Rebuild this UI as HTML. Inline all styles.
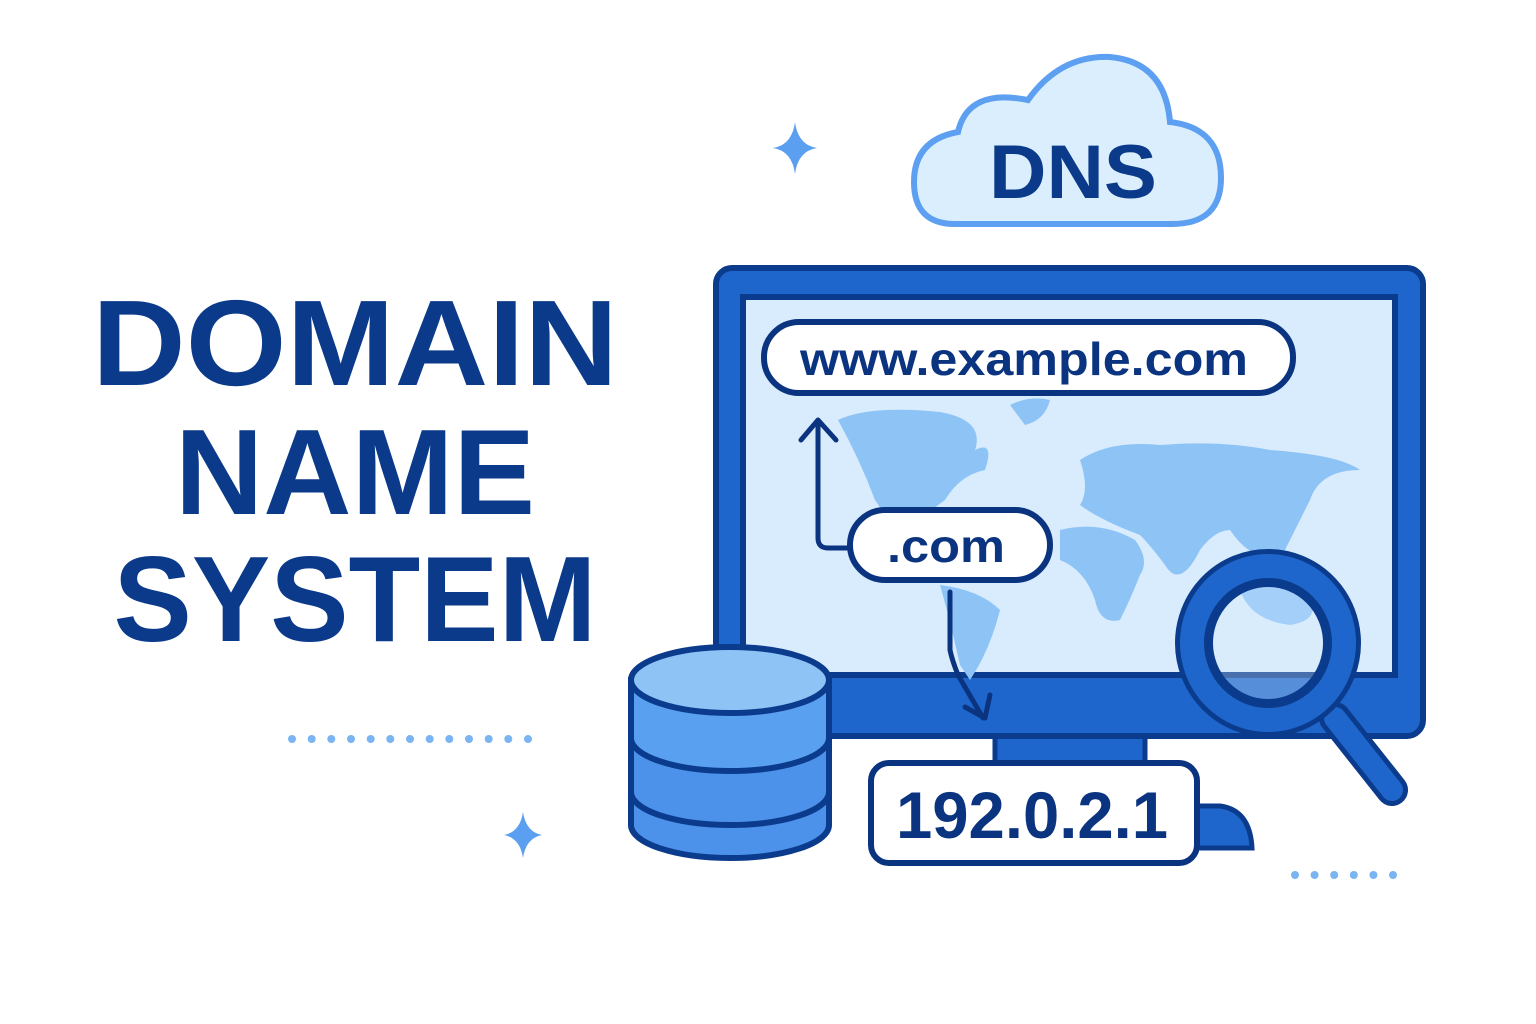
<!DOCTYPE html>
<html><head><meta charset="utf-8"><style>
html,body{margin:0;padding:0;background:#fff;}
svg{display:block;}
</style></head><body>
<svg width="1536" height="1024" viewBox="0 0 1536 1024" xmlns="http://www.w3.org/2000/svg">
<rect width="1536" height="1024" fill="#fff"/>
<g font-family="Liberation Sans, sans-serif" font-weight="bold" fill="#0b3a8a" text-anchor="middle">
<text x="355" y="385" font-size="122" textLength="526" lengthAdjust="spacingAndGlyphs">DOMAIN</text>
<text x="355" y="514" font-size="122" textLength="360" lengthAdjust="spacingAndGlyphs">NAME</text>
<text x="355" y="641" font-size="122" textLength="483" lengthAdjust="spacingAndGlyphs">SYSTEM</text>
</g>
<g fill="#7ab4f2">
<circle cx="292" cy="739" r="4"/><circle cx="311.7" cy="739" r="4"/><circle cx="331.3" cy="739" r="4"/><circle cx="351" cy="739" r="4"/><circle cx="370.7" cy="739" r="4"/><circle cx="390.3" cy="739" r="4"/><circle cx="410" cy="739" r="4"/><circle cx="429.7" cy="739" r="4"/><circle cx="449.3" cy="739" r="4"/><circle cx="469" cy="739" r="4"/><circle cx="488.7" cy="739" r="4"/><circle cx="508.3" cy="739" r="4"/><circle cx="528" cy="739" r="4"/>
<circle cx="1295" cy="875" r="4"/><circle cx="1314.6" cy="875" r="4"/><circle cx="1334.2" cy="875" r="4"/><circle cx="1353.8" cy="875" r="4"/><circle cx="1373.4" cy="875" r="4"/><circle cx="1393" cy="875" r="4"/>
</g>
<g fill="#5b9ff0">
<path d="M795 122 Q798 145 817 148 Q798 151 795 174 Q792 151 773 148 Q792 145 795 122Z"/>
<path d="M523 812 Q526 832 542 835 Q526 838 523 858 Q520 838 504 835 Q520 832 523 812Z"/>
</g>
<path d="M955 224 Q914 224 914 182 Q914 140 958 132 Q968 88 1028 100 Q1060 55 1110 57 Q1165 62 1170 122 Q1221 128 1221 178 Q1221 224 1172 224 Z" fill="#dbeefd" stroke="#5d9ff0" stroke-width="6"/>
<text x="1073" y="198" font-family="Liberation Sans, sans-serif" font-weight="bold" font-size="76" fill="#0b3a8a" text-anchor="middle" textLength="168" lengthAdjust="spacingAndGlyphs">DNS</text>
<rect x="995" y="735" width="150" height="30" fill="#1f66cc" stroke="#0b3b8c" stroke-width="5"/>
<path d="M1190 806 L1220 806 Q1250 810 1252 848 L1190 848 Z" fill="#1f66cc" stroke="#0b3b8c" stroke-width="5"/>
<rect x="716" y="268" width="707" height="468" rx="16" fill="#1f66cc" stroke="#0b3b8c" stroke-width="6"/>
<rect x="743" y="297" width="652" height="378" fill="#d8ecfd" stroke="#0b3b8c" stroke-width="6"/>
<g fill="#8ec3f6">
<path d="M838 420 Q870 405 940 412 Q985 420 975 450 Q995 440 985 470 Q960 475 945 500 Q915 520 900 560 Q890 520 875 500 Q860 460 838 420Z"/>
<path d="M1010 405 Q1030 395 1050 400 Q1045 420 1025 425 Z"/>
<path d="M940 585 Q980 590 1000 610 Q990 650 970 680 L960 665 Q950 620 940 585Z"/>
<path d="M1080 460 Q1110 440 1160 445 Q1220 440 1270 450 Q1340 455 1360 470 Q1320 470 1310 500 Q1295 530 1280 560 Q1250 560 1230 530 Q1215 530 1200 550 Q1180 590 1165 565 Q1150 545 1140 535 Q1100 520 1080 505 Q1090 490 1080 460Z"/>
<path d="M1060 530 Q1100 520 1135 540 Q1150 560 1140 575 Q1130 600 1120 620 Q1100 625 1095 600 Q1085 570 1060 560 Z"/>
<path d="M1240 590 Q1280 580 1310 600 Q1320 620 1290 625 Q1250 620 1240 590Z"/>
<path d="M1250 560 Q1270 555 1290 565 L1280 575 Q1260 572 1250 560Z"/>
</g>
<rect x="764" y="322" width="529" height="71" rx="35" fill="#fff" stroke="#0b3480" stroke-width="6"/>
<text x="1024" y="375" font-family="Liberation Sans, sans-serif" font-weight="bold" font-size="46" fill="#0b3480" text-anchor="middle" textLength="448" lengthAdjust="spacingAndGlyphs">www.example.com</text>
<g fill="none" stroke="#0b3480" stroke-width="5" stroke-linecap="round" stroke-linejoin="round">
<path d="M850 548 L828 548 Q818 548 818 538 L818 425"/>
<path d="M801 440 L818 420 L836 440"/>
<path d="M950 592 L950 650 Q952 660 958 675 L983 718"/>
<path d="M965 707 L985 718 L990 695"/>
</g>
<rect x="850" y="510" width="200" height="70" rx="35" fill="#fff" stroke="#0b3480" stroke-width="6"/>
<text x="946" y="562" font-family="Liberation Sans, sans-serif" font-weight="bold" font-size="46" fill="#0b3480" text-anchor="middle" textLength="118" lengthAdjust="spacingAndGlyphs">.com</text>
<rect x="871" y="763" width="326" height="100" rx="18" fill="#fff" stroke="#0b3480" stroke-width="6"/>
<text x="1032" y="838" font-family="Liberation Sans, sans-serif" font-weight="bold" font-size="66" fill="#0b3480" text-anchor="middle" textLength="272" lengthAdjust="spacingAndGlyphs">192.0.2.1</text>
<path d="M1335 718 L1392 790" stroke="#0b3b8c" stroke-width="32" stroke-linecap="round"/>
<path d="M1335 718 L1392 790" stroke="#1f66cc" stroke-width="22" stroke-linecap="round"/>
<ellipse cx="1268" cy="643" rx="76" ry="77" fill="none" stroke="#0b3b8c" stroke-width="34"/>
<ellipse cx="1268" cy="643" rx="76" ry="77" fill="none" stroke="#1f66cc" stroke-width="24"/>
<ellipse cx="1268" cy="643" rx="58" ry="59" fill="rgba(216,236,253,0.3)" stroke="#0b3b8c" stroke-width="6"/>
<g stroke="#0b3b8c" stroke-width="6">
<path d="M631 792 L631 825 A99 33 0 0 0 829 825 L829 792 Z" fill="#4c92eb"/>
<path d="M631 738 L631 792 A99 33 0 0 0 829 792 L829 738 Z" fill="#4c92eb"/>
<path d="M631 680 L631 738 A99 33 0 0 0 829 738 L829 680 Z" fill="#5aa0f0"/>
<ellipse cx="730" cy="680" rx="99" ry="33" fill="#8ec3f6"/>
</g>
</svg>
</body></html>
